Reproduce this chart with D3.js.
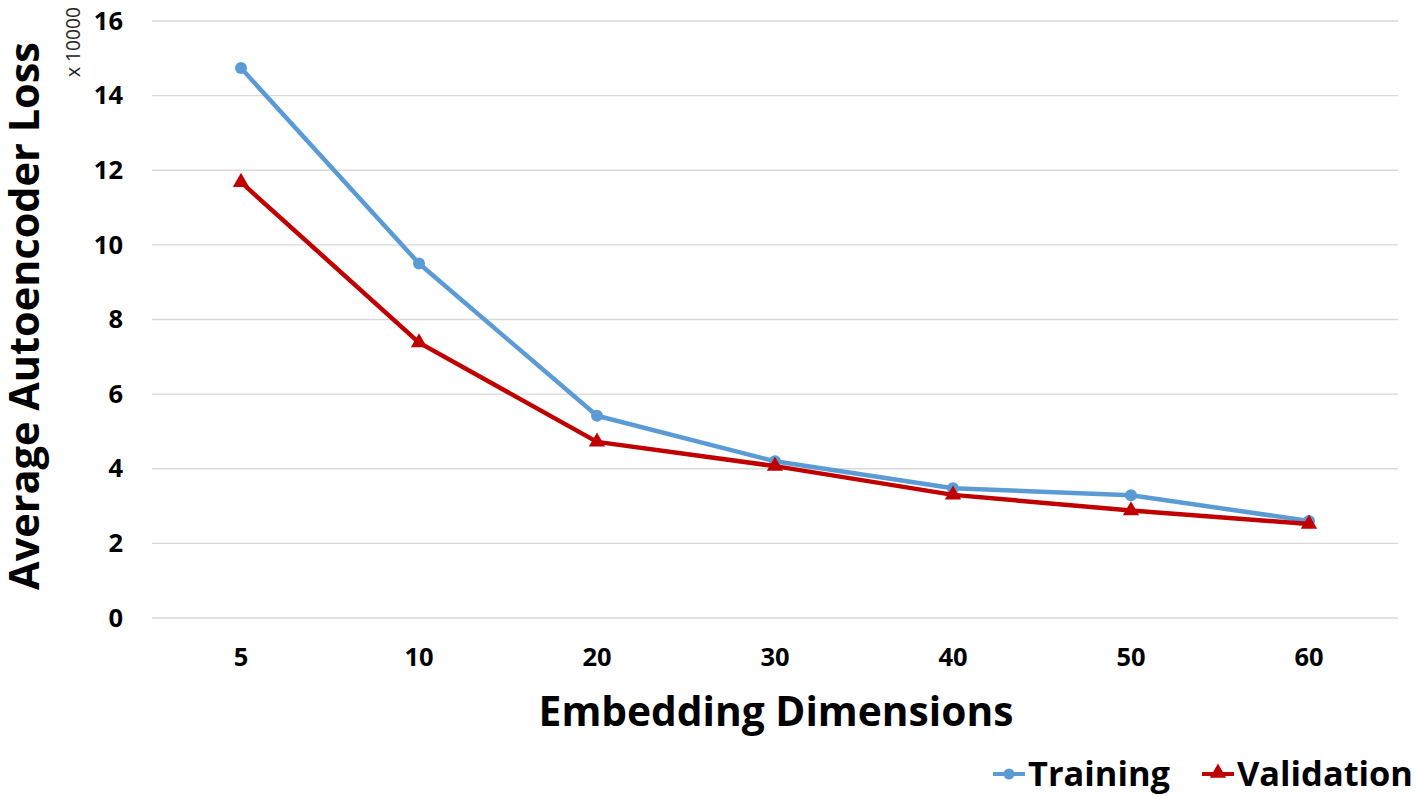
<!DOCTYPE html>
<html><head><meta charset="utf-8">
<script src="https://cdn.jsdelivr.net/npm/d3@7"></script>
<style>html,body{margin:0;padding:0;background:#fff;}svg{display:block;font-family:"Open Sans",Lato,sans-serif;}</style>
</head><body>
<svg id="c" width="1416" height="796"></svg>
<script>
const categories = ["5","10","20","30","40","50","60"];
const training = [14.74, 9.50, 5.42, 4.20, 3.48, 3.29, 2.60];
const validation = [11.68, 7.38, 4.72, 4.07, 3.30, 2.88, 2.52];
const yTicks = [0,2,4,6,8,10,12,14,16];
const seriesNames = ["Training","Validation"];
const colors = ["#5B9BD5","#C00000"];

(function(){
const FONT = "'Open Sans', Lato, sans-serif";
const svg = d3.select("#c");
const mLeft = 152, mRight = 1398, mTop = 21, mBottom = 618;
const x = d3.scaleBand().domain(categories).range([mLeft,mRight]);
const y = d3.scaleLinear().domain([0,16]).range([mBottom,mTop]);

function fit(sel, w){
  const base = +sel.attr("font-size");
  const len = sel.node().getComputedTextLength();
  if(len>0) sel.attr("font-size", base*w/len);
  return sel;
}

svg.append("g").selectAll("line").data(yTicks).join("line")
  .attr("x1",mLeft).attr("x2",mRight)
  .attr("y1",d=>y(d)).attr("y2",d=>y(d))
  .attr("stroke","#d9d9d9").attr("stroke-width",1.3);

const ya = svg.append("g").attr("transform",`translate(${mLeft},0)`)
  .call(d3.axisLeft(y).tickValues(yTicks).tickSize(0).tickPadding(29));
ya.select(".domain").remove();
ya.selectAll("text").attr("font-size",25.5).attr("font-weight","bold").attr("fill","#000").attr("font-family",FONT);

const xa = svg.append("g").attr("transform",`translate(0,${mBottom})`)
  .call(d3.axisBottom(x).tickSize(0).tickPadding(30));
xa.select(".domain").remove();
xa.selectAll("text").attr("font-size",25.5).attr("font-weight","bold").attr("fill","#000").attr("font-family",FONT);

const yt = svg.append("text").attr("transform",`translate(39,316) rotate(-90)`)
  .attr("text-anchor","middle").attr("font-size",40).attr("font-weight","bold").text("Average Autoencoder Loss");
fit(yt, 548);
const xt = svg.append("text").attr("x",776).attr("y",726)
  .attr("text-anchor","middle").attr("font-size",40).attr("font-weight","bold").text("Embedding Dimensions");
fit(xt, 475);
const sc = svg.append("text").attr("transform",`translate(80,42) rotate(-90)`)
  .attr("text-anchor","middle").attr("font-size",18).attr("fill","#222").text("x 10000");
fit(sc, 70);

const line = d3.line().x((d,i)=>x(categories[i])+x.bandwidth()/2).y(d=>y(d));
const tri = d3.symbol().type(d3.symbolTriangle).size(115);

[training, validation].forEach((vals,si)=>{
  svg.append("path").datum(vals).attr("d",line).attr("fill","none")
    .attr("stroke",colors[si]).attr("stroke-width",4.5).attr("stroke-linejoin","round");
  const g = svg.append("g");
  if(si===0){
    g.selectAll("circle").data(vals).join("circle")
      .attr("cx",(d,i)=>x(categories[i])+x.bandwidth()/2).attr("cy",d=>y(d)).attr("r",6)
      .attr("fill",colors[si]);
  } else {
    g.selectAll("path").data(vals).join("path")
      .attr("d",tri).attr("transform",(d,i)=>`translate(${x(categories[i])+x.bandwidth()/2},${y(d)})`)
      .attr("fill",colors[si]);
  }
});

const leg = svg.append("g");
const legX = [993, 1202];
let legSize = 34;
seriesNames.forEach((n,i)=>{
  const lx = legX[i];
  leg.append("line").attr("x1",lx).attr("x2",lx+32).attr("y1",774).attr("y2",774)
    .attr("stroke",colors[i]).attr("stroke-width",4);
  if(i===0) leg.append("circle").attr("cx",lx+16).attr("cy",774).attr("r",5.5).attr("fill",colors[i]);
  else leg.append("path").attr("d",tri).attr("transform",`translate(${lx+16},773)`).attr("fill",colors[i]);
  const t = leg.append("text").attr("x",lx+35).attr("y",786).attr("font-size",legSize).attr("font-weight","bold").text(n);
  if(i===0){ fit(t, 142); legSize = +t.attr("font-size"); }
});
})();
</script>
</body></html>
